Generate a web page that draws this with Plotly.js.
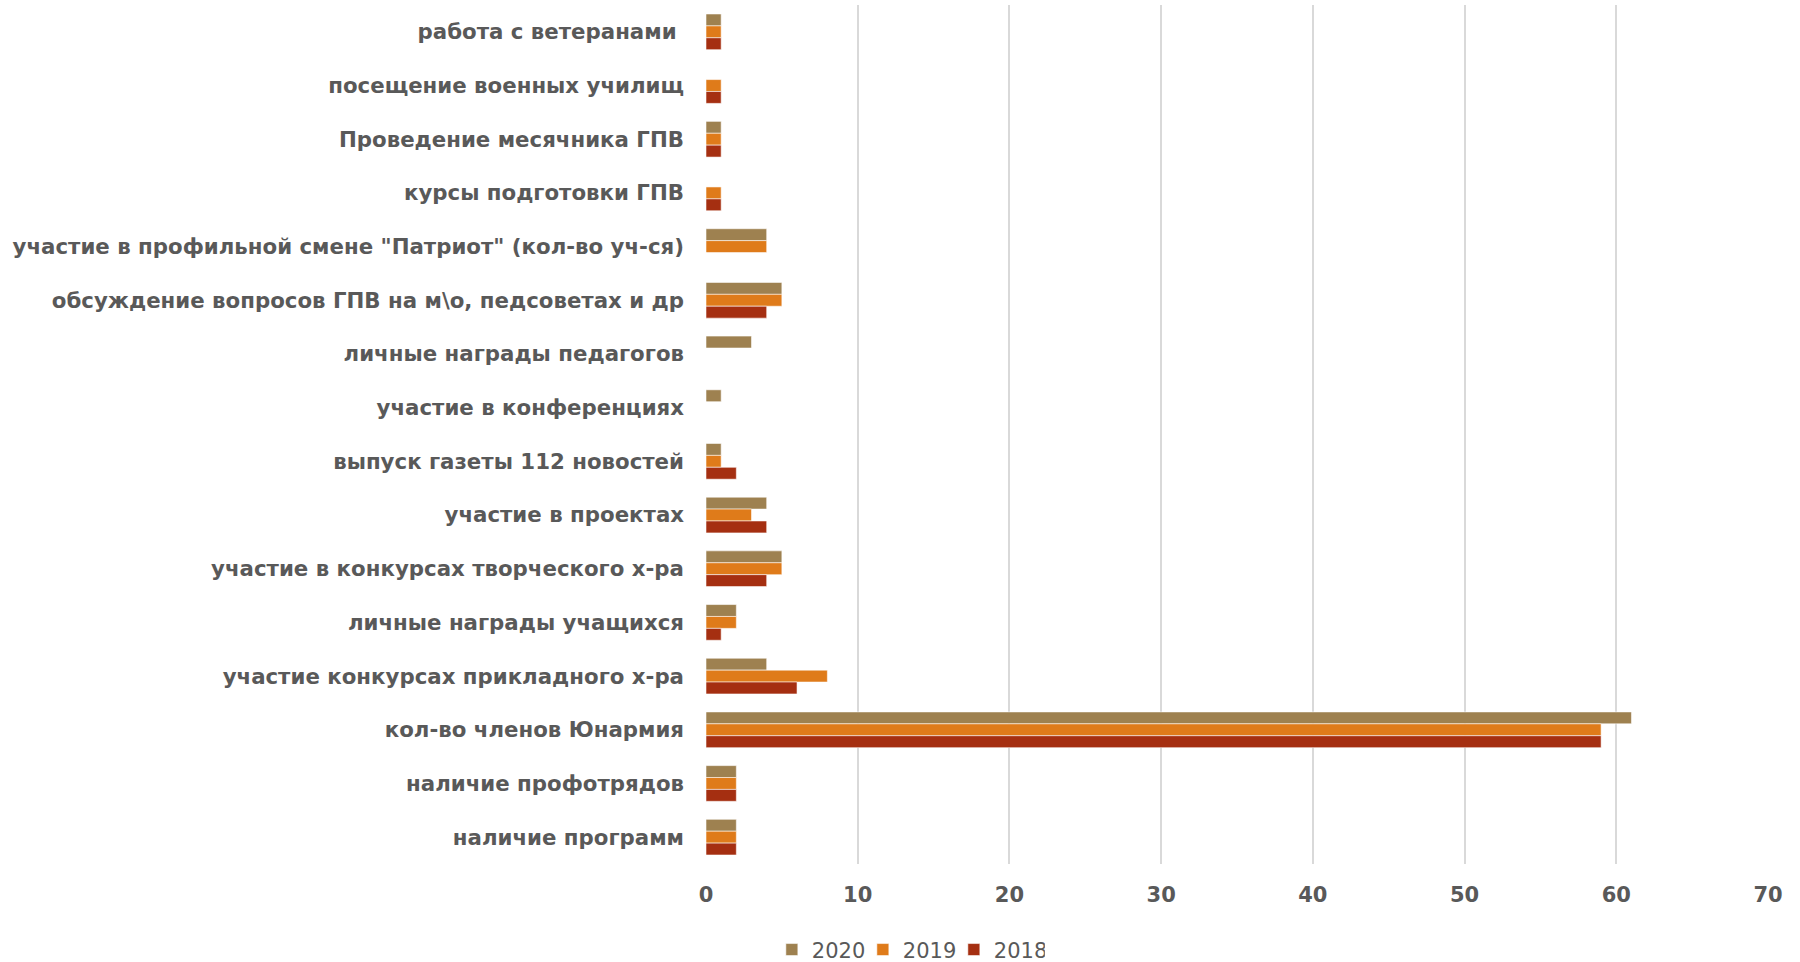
<!DOCTYPE html>
<html>
<head>
<meta charset="utf-8">
<script src="https://cdn.plot.ly/plotly-3.0.1.min.js"></script>
<style>html,body{margin:0;padding:0;background:#fff;}#chart{width:1800px;height:962px;}</style>
</head>
<body>
<div id="chart"></div>
<script>
var categories = [
  "работа с ветеранами\u00a0",
  "посещение военных училищ",
  "Проведение месячника ГПВ",
  "курсы подготовки ГПВ",
  "участие в профильной смене \"Патриот\" (кол-во уч-ся)",
  "обсуждение вопросов ГПВ на м\\о, педсоветах и др",
  "личные награды педагогов",
  "участие в конференциях",
  "выпуск газеты 112 новостей",
  "участие в проектах",
  "участие в конкурсах творческого х-ра",
  "личные награды учащихся",
  "участие конкурсах прикладного х-ра",
  "кол-во членов Юнармия",
  "наличие профотрядов",
  "наличие программ"
];
var values2020 = [1, 0, 1, 0, 4, 5, 3, 1, 1, 4, 5, 2, 4, 61, 2, 2];
var values2019 = [1, 1, 1, 1, 4, 5, 0, 0, 1, 3, 5, 2, 8, 59, 2, 2];
var values2018 = [1, 1, 1, 1, 0, 4, 0, 0, 2, 4, 4, 1, 6, 59, 2, 2];
var seriesNames = ["2020", "2019", "2018"];
var xTicks = [0, 10, 20, 30, 40, 50, 60, 70];

var colors = ["#9E8150", "#DF7B1A", "#A52F11"];
var vals = [values2020, values2019, values2018];

var traces = vals.map(function (v, i) {
  return {
    type: "bar",
    orientation: "h",
    name: seriesNames[i],
    x: v,
    y: categories,
    marker: { color: colors[i], line: { color: "rgba(255,255,255,0.55)", width: 1 } },
    hoverinfo: "x+y+name"
  };
});

var layout = {
  width: 1800,
  height: 962,
  margin: { l: 706, r: 32, t: 5, b: 98, autoexpand: false },
  paper_bgcolor: "#ffffff",
  plot_bgcolor: "#ffffff",
  barmode: "group",
  bargap: 0.335,
  bargroupgap: 0,
  font: { family: "DejaVu Sans", color: "#595959" },
  xaxis: {
    range: [0, 70],
    tickvals: xTicks,
    showgrid: true,
    gridcolor: "#D9D9D9",
    gridwidth: 2,
    zeroline: false,
    showline: false,
    ticks: "",
    ticklabelstandoff: 16,
    tickfont: { family: "DejaVu Sans", size: 21, color: "#595959", weight: "bold" },
    fixedrange: true
  },
  yaxis: {
    type: "category",
    autorange: "reversed",
    showgrid: false,
    zeroline: false,
    showline: false,
    ticks: "",
    ticklabelstandoff: 21,
    tickfont: { family: "DejaVu Sans", size: 21.3, color: "#595959", weight: "bold" },
    fixedrange: true
  },
  showlegend: true,
  legend: {
    orientation: "h",
    x: 0.062,
    xanchor: "left",
    y: -0.1,
    yanchor: "middle",
    font: { family: "DejaVu Sans", size: 21, color: "#595959" },
    itemwidth: 30,
    entrywidth: 46,
    traceorder: "normal"
  }
};

Plotly.newPlot("chart", traces, layout, { displayModeBar: false, staticPlot: true });
</script>
</body>
</html>
